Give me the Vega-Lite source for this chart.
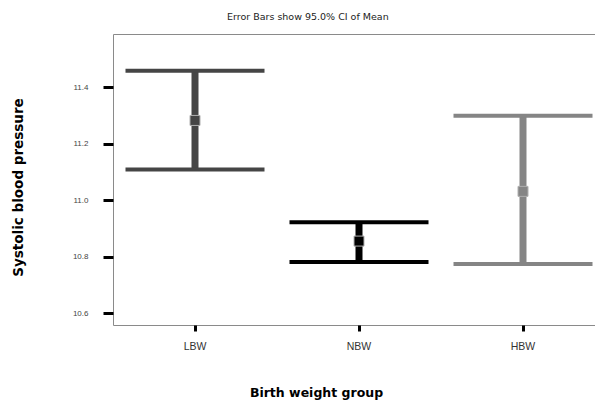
{
  "$schema": "https://vega.github.io/schema/vega-lite/v6.json",
  "autosize": {"type": "none"},
  "padding": {"left": 113, "top": 34, "right": 0, "bottom": 77},
  "width": 492,
  "height": 291,
  "background": "white",
  "config": {
    "font": "Liberation Sans",
    "view": {"stroke": "#8a8a8a", "strokeWidth": 1}
  },
  "title": {
    "text": "Error Bars show 95.0% CI of Mean",
    "anchor": "start",
    "frame": "group",
    "dx": 114,
    "offset": 13,
    "fontSize": 9.5,
    "fontWeight": "normal",
    "color": "#222222",
    "font": "DejaVu Sans"
  },
  "data": {
    "values": [
      {"group": "LBW", "lower": 11.108, "mean": 11.282, "upper": 11.458},
      {"group": "NBW", "lower": 10.781, "mean": 10.855, "upper": 10.922},
      {"group": "HBW", "lower": 10.774, "mean": 11.031, "upper": 11.299}
    ]
  },
  "encoding": {
    "x": {
      "field": "group",
      "type": "nominal",
      "sort": ["LBW", "NBW", "HBW"],
      "scale": {"paddingInner": 0, "paddingOuter": 0},
      "axis": {
        "title": "Birth weight group",
        "titleFont": "DejaVu Sans",
        "titleFontSize": 12.5,
        "titleFontWeight": "bold",
        "titleColor": "#000000",
        "titleX": 203,
        "titleY": 67,
        "titleBaseline": "middle",
        "titleAnchor": "middle",
        "labelAngle": 0,
        "labelFontSize": 10.5,
        "labelColor": "#333333",
        "labelPadding": 10,
        "domain": false,
        "tickColor": "#000000",
        "tickWidth": 3,
        "tickSize": 6
      }
    },
    "color": {
      "field": "group",
      "type": "nominal",
      "scale": {"domain": ["LBW", "NBW", "HBW"], "range": ["#454545", "#000000", "#858585"]},
      "legend": null
    }
  },
  "layer": [
    {
      "mark": {"type": "rule", "strokeWidth": 7},
      "encoding": {
        "y": {
          "field": "lower",
          "type": "quantitative",
          "scale": {"domain": [10.558, 11.588], "nice": false, "zero": false},
          "axis": {
            "title": "Systolic blood pressure",
            "titleFont": "DejaVu Sans",
            "titleFontSize": 13.5,
            "titleFontWeight": "bold",
            "titleColor": "#000000",
            "titleX": -95,
            "titleY": 153,
            "titleBaseline": "middle",
            "titleAnchor": "middle",
            "values": [10.6, 10.8, 11.0, 11.2, 11.4],
            "format": ".1f",
            "labelFontSize": 8,
            "labelColor": "#444444",
            "labelPadding": 15,
            "domain": false,
            "grid": false,
            "tickColor": "#000000",
            "tickWidth": 3,
            "tickSize": 10
          }
        },
        "y2": {"field": "upper"}
      }
    },
    {
      "mark": {"type": "tick", "size": 139, "thickness": 4, "opacity": 1},
      "encoding": {"y": {"field": "upper", "type": "quantitative"}}
    },
    {
      "mark": {"type": "tick", "size": 139, "thickness": 4, "opacity": 1},
      "encoding": {"y": {"field": "lower", "type": "quantitative"}}
    },
    {
      "mark": {"type": "point", "shape": "square", "filled": true, "size": 100, "opacity": 1, "stroke": "#b0b0b0", "strokeWidth": 1},
      "encoding": {"y": {"field": "mean", "type": "quantitative"}}
    }
  ]
}
